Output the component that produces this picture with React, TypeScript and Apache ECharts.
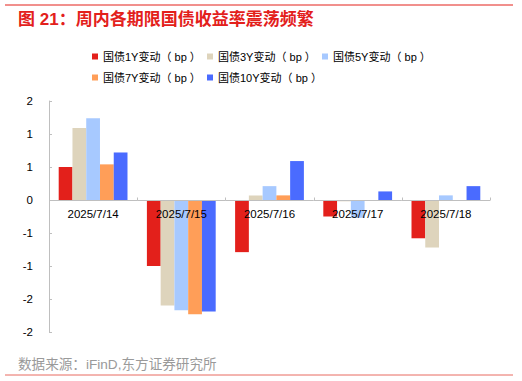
import React, { useEffect, useRef } from "react";
import * as echarts from "echarts";

const categories = ["2025/7/14", "2025/7/15", "2025/7/16", "2025/7/17", "2025/7/18"];
const seriesNames = ["国债1Y变动（bp）", "国债3Y变动（bp）", "国债5Y变动（bp）", "国债7Y变动（bp）", "国债10Y变动（bp）"];
const y1 = [0.5, -1.0, -0.79, -0.25, -0.58];
const y3 = [1.09, -1.6, 0.07, -0.02, -0.72];
const y5 = [1.24, -1.67, 0.21, -0.27, 0.07];
const y7 = [0.54, -1.73, 0.07, 0, 0];
const y10 = [0.72, -1.69, 0.59, 0.13, 0.21];
const colors = ["#E3201B", "#DED4BC", "#A7C9FF", "#FF9E58", "#4A6BFF"];

const FONT = "Arial, 'Liberation Sans', 'Noto Sans CJK SC', sans-serif";
const AXIS_GREY = "#BFBFBF";

export default function App() {
  const ref = useRef<HTMLDivElement>(null);
  useEffect(() => {
    document.body.style.margin = "0";
    const chart = echarts.init(ref.current!, null, { renderer: "svg" });
    const allData = [y1, y3, y5, y7, y10];
    const legendPos = [
      [92, 51],
      [207, 51],
      [322, 51],
      [92, 72],
      [207, 72],
    ];
    const barSeries = seriesNames.map((n, i) => ({
      name: n,
      type: "bar",
      data: allData[i],
      barGap: "0%",
      barCategoryGap: "22%",
      itemStyle: { color: colors[i] },
    }));
    const zeroAxisSeries = {
      type: "custom",
      name: "zeroAxis",
      z: 10,
      silent: true,
      clip: false,
      data: categories.map((c) => [c, 0]),
      encode: { x: 0, y: 1 },
      renderItem: (params: any, api: any) => {
        const pt = api.coord([api.value(0), 0]);
        const w = api.size([1, 0])[0];
        const y = Math.round(pt[1]) + 0.5;
        const x1 = pt[0] - w / 2;
        const x2 = pt[0] + w / 2;
        const xr = Math.round(x2) + 0.5;
        return {
          type: "group",
          children: [
            {
              type: "line",
              shape: { x1, y1: y, x2, y2: y },
              style: { stroke: AXIS_GREY, lineWidth: 1 },
            },
            {
              type: "line",
              shape: { x1: xr, y1: y, x2: xr, y2: y - 3 },
              style: { stroke: AXIS_GREY, lineWidth: 1 },
            },
            {
              type: "text",
              x: pt[0],
              y: y + 8,
              style: {
                text: categories[params.dataIndex],
                fill: "#000",
                fontSize: 11.5,
                fontFamily: FONT,
                align: "center",
                verticalAlign: "top",
              },
            },
          ],
        };
      },
    };
    chart.setOption({
      animation: false,
      title: {
        text: "图 21：周内各期限国债收益率震荡频繁",
        left: 18,
        top: 11,
        padding: 0,
        textStyle: { color: "#E3201B", fontSize: 17, fontWeight: "bold", fontFamily: FONT },
      },
      legend: seriesNames.map((n, i) => ({
        data: [n],
        left: legendPos[i][0],
        top: legendPos[i][1],
        padding: 0,
        icon: "rect",
        itemWidth: 6,
        itemHeight: 6,
        formatter: (name: string) => name.replace("（bp）", "（ bp ）"),
        textStyle: { fontSize: 11, color: "#000", fontFamily: FONT },
      })),
      grid: { left: 49, right: 32, top: 101, bottom: 49, containLabel: false },
      xAxis: {
        type: "category",
        data: categories,
        axisLine: { show: false },
        axisTick: { show: false },
        axisLabel: { show: false },
      },
      yAxis: {
        type: "value",
        min: -2,
        max: 1.5,
        interval: 0.5,
        splitLine: { show: false },
        axisLine: { show: true, onZero: false, lineStyle: { color: AXIS_GREY, width: 1 } },
        axisTick: { show: true, inside: true, length: 3, lineStyle: { color: AXIS_GREY } },
        axisLabel: {
          color: "#000",
          fontSize: 11.5,
          fontFamily: FONT,
          margin: 16,
          formatter: (v: number) => {
            const r = Math.sign(v) * Math.round(Math.abs(v));
            return String(r === 0 ? 0 : r);
          },
        },
      },
      series: [...barSeries, zeroAxisSeries],
      graphic: [
        {
          type: "line",
          shape: { x1: 5, y1: 5, x2: 513, y2: 5 },
          style: { stroke: "#E3201B", lineWidth: 1 },
        },
        {
          type: "text",
          left: 18,
          top: 358,
          style: { text: "数据来源：iFinD,东方证券研究所", fill: "#9A9A9A", fontSize: 13.6, fontFamily: FONT },
        },
        {
          type: "line",
          shape: { x1: 5, y1: 375, x2: 513, y2: 375 },
          style: { stroke: "#E86A60", lineWidth: 1 },
        },
      ],
    });
    return () => chart.dispose();
  }, []);
  return <div ref={ref} style={{ width: 522, height: 381, position: "absolute", left: 0, top: 0 }} />;
}
